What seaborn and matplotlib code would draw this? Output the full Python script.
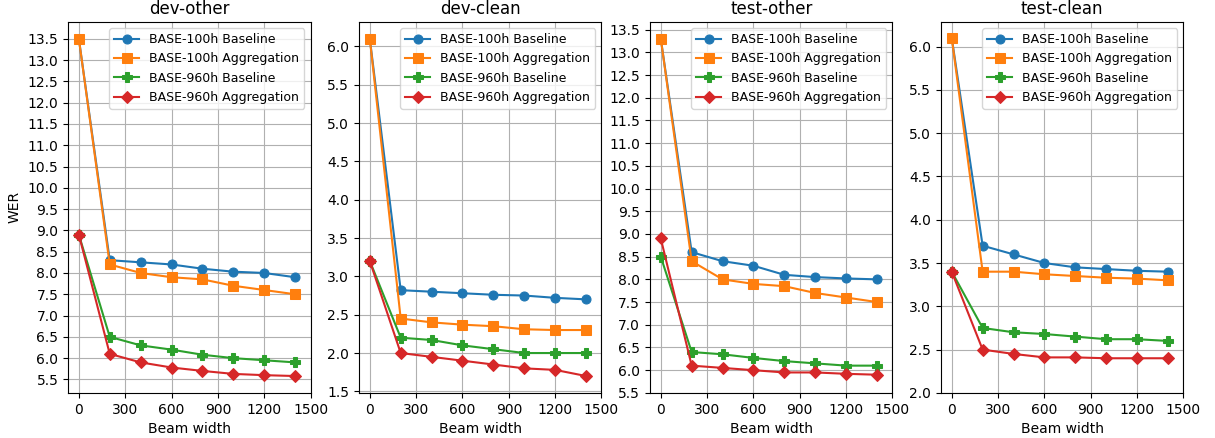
import matplotlib
matplotlib.use("Agg")
import matplotlib.pyplot as plt
import seaborn as sns
import numpy as np
import pandas as pd

beam = [0, 200, 400, 600, 800, 1000, 1200, 1400]
series_names = ["BASE-100h Baseline", "BASE-100h Aggregation", "BASE-960h Baseline", "BASE-960h Aggregation"]
panels = ["dev-other", "dev-clean", "test-other", "test-clean"]

dev_other = [
    [13.5, 8.3, 8.25, 8.2, 8.1, 8.03, 8.0, 7.9],
    [13.5, 8.2, 8.0, 7.9, 7.85, 7.7, 7.6, 7.5],
    [8.9, 6.5, 6.3, 6.2, 6.08, 6.0, 5.95, 5.9],
    [8.9, 6.1, 5.9, 5.78, 5.7, 5.63, 5.6, 5.58],
]
dev_clean = [
    [6.1, 2.82, 2.8, 2.78, 2.76, 2.75, 2.72, 2.7],
    [6.1, 2.45, 2.4, 2.37, 2.35, 2.31, 2.3, 2.3],
    [3.2, 2.2, 2.17, 2.1, 2.05, 2.0, 2.0, 2.0],
    [3.2, 2.0, 1.95, 1.9, 1.85, 1.8, 1.78, 1.7],
]
test_other = [
    [13.3, 8.6, 8.4, 8.3, 8.1, 8.05, 8.02, 8.0],
    [13.3, 8.4, 8.0, 7.9, 7.85, 7.7, 7.6, 7.5],
    [8.5, 6.4, 6.35, 6.27, 6.2, 6.15, 6.1, 6.1],
    [8.9, 6.1, 6.05, 6.0, 5.95, 5.95, 5.92, 5.9],
]
test_clean = [
    [6.1, 3.7, 3.6, 3.5, 3.45, 3.43, 3.41, 3.4],
    [6.1, 3.4, 3.4, 3.37, 3.35, 3.33, 3.32, 3.3],
    [3.4, 2.75, 2.7, 2.68, 2.65, 2.62, 2.62, 2.6],
    [3.4, 2.5, 2.45, 2.41, 2.41, 2.4, 2.4, 2.4],
]
panel_data = [dev_other, dev_clean, test_other, test_clean]
y_bottoms = [None, None, 5.5, 2.0]

markers = ["o", "s", "P", "D"]
colors = ["#1f77b4", "#ff7f0e", "#2ca02c", "#d62728"]

fig, axes = plt.subplots(1, 4, figsize=(12.15, 4.38), dpi=100)
fig.subplots_adjust(left=0.056, right=0.974, top=0.95, bottom=0.103, wspace=0.2)

for ax, title, data, yb in zip(axes, panels, panel_data, y_bottoms):
    for name, vals, m, c in zip(series_names, data, markers, colors):
        df = pd.DataFrame({"Beam width": beam, "WER": vals})
        sns.lineplot(data=df, x="Beam width", y="WER", ax=ax, marker=m, color=c,
                     markersize=6.5, markeredgecolor=c, label=name)
    ax.set_title(title, fontsize=12)
    ax.set_xticks(np.arange(0, 1501, 300))
    ax.yaxis.set_major_locator(matplotlib.ticker.MultipleLocator(0.5))
    ax.yaxis.set_major_formatter(matplotlib.ticker.FormatStrFormatter("%.1f"))
    if yb is not None:
        ax.set_ylim(bottom=yb)
    ax.grid(True, color="#b0b0b0", linewidth=0.8)
    ax.set_axisbelow(True)
    ax.legend(loc="upper right", fontsize=9)
    ax.set_xlabel("Beam width", fontsize=10)
    ax.set_ylabel("WER" if ax is axes[0] else "", fontsize=10)

fig.savefig("out.png", dpi=100)
